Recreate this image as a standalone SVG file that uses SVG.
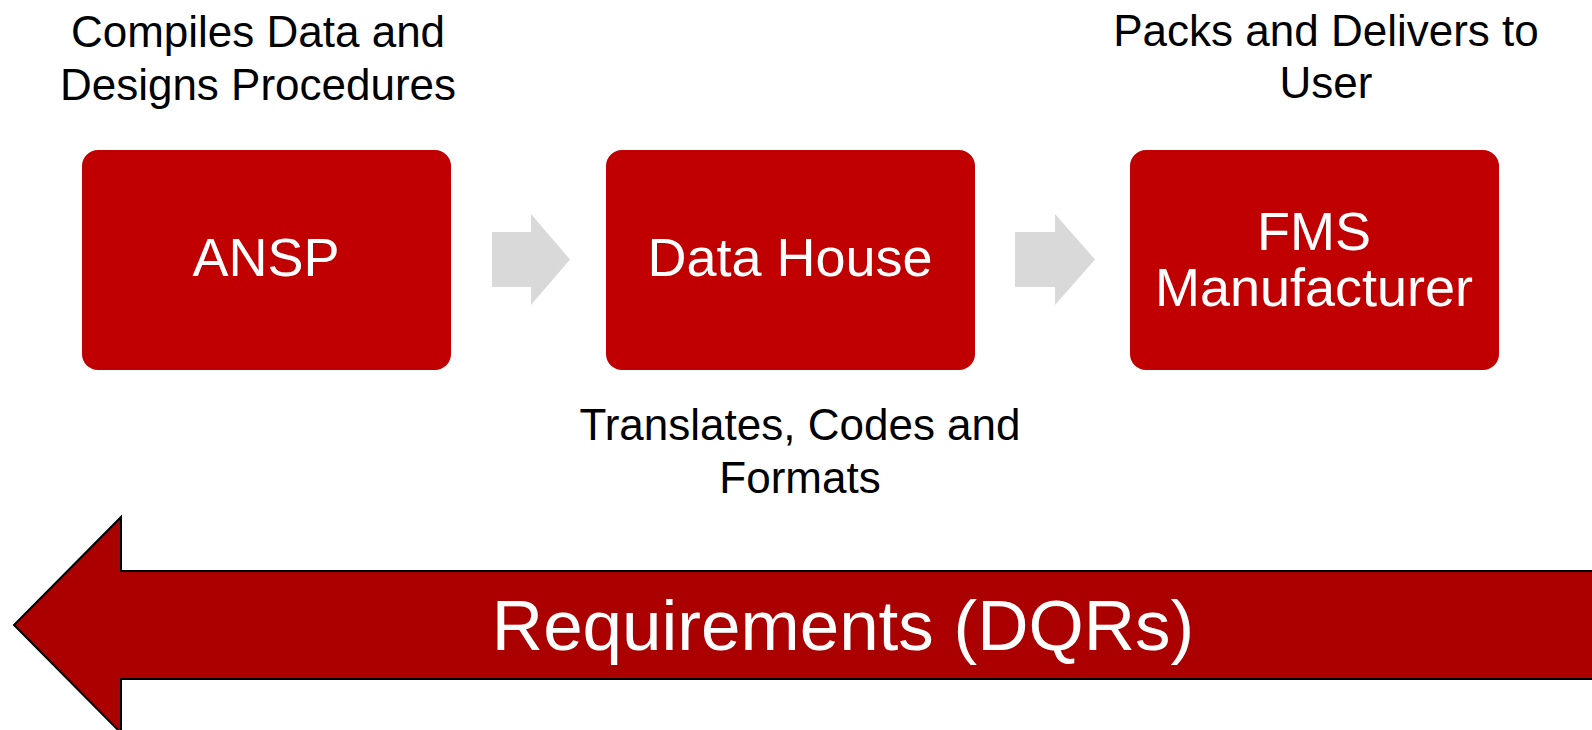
<svg xmlns="http://www.w3.org/2000/svg" width="1592" height="730" viewBox="0 0 1592 730">
  <style>
    .box { fill: #C00000; }
    .chev { fill: #D9D9D9; }
    .cap { font-family: "Liberation Sans", Arial, sans-serif; font-size: 44px; fill: #000000; text-anchor: middle; }
    .lbl { font-family: "Liberation Sans", Arial, sans-serif; font-size: 54px; fill: #FFFFFF; text-anchor: middle; }
    .req { font-family: "Liberation Sans", Arial, sans-serif; font-size: 71px; fill: #FFFFFF; text-anchor: middle; }
  </style>
  <rect width="1592" height="730" fill="#FFFFFF"/>

  <!-- Requirements flow back, right to left -->
  <g id="requirements">
    <path d="M1600,571 L121,571 L121,517 L14,625 L121,733 L121,679 L1600,679 Z" fill="#AA0000" stroke="#000000" stroke-width="2" stroke-linejoin="miter"/>
    <text class="req" x="843" y="650">Requirements (DQRs)</text>
  </g>

  <!-- Process chevrons between stages -->
  <g id="connectors">
    <path class="chev" d="M492,232 L531,232 L531,214 L570,259.5 L531,305 L531,287 L492,287 Z"/>
    <path class="chev" d="M1015,232 L1055,232 L1055,214 L1095,259.5 L1055,305 L1055,287 L1015,287 Z"/>
  </g>

  <g id="ansp">
    <rect class="box" x="82" y="150" width="369" height="220" rx="16" ry="16"/>
    <text class="lbl" x="266" y="276">ANSP</text>
    <text class="cap" x="258" y="47">Compiles Data and</text>
    <text class="cap" x="258" y="100">Designs Procedures</text>
  </g>

  <g id="data-house">
    <rect class="box" x="606" y="150" width="369" height="220" rx="16" ry="16"/>
    <text class="lbl" x="790" y="276">Data House</text>
    <text class="cap" x="800" y="440">Translates, Codes and</text>
    <text class="cap" x="800" y="493">Formats</text>
  </g>

  <g id="fms-manufacturer">
    <rect class="box" x="1130" y="150" width="369" height="220" rx="16" ry="16"/>
    <text class="lbl" x="1314" y="250">FMS</text>
    <text class="lbl" x="1314" y="306">Manufacturer</text>
    <text class="cap" x="1326" y="46">Packs and Delivers to</text>
    <text class="cap" x="1326" y="98">User</text>
  </g>
</svg>
